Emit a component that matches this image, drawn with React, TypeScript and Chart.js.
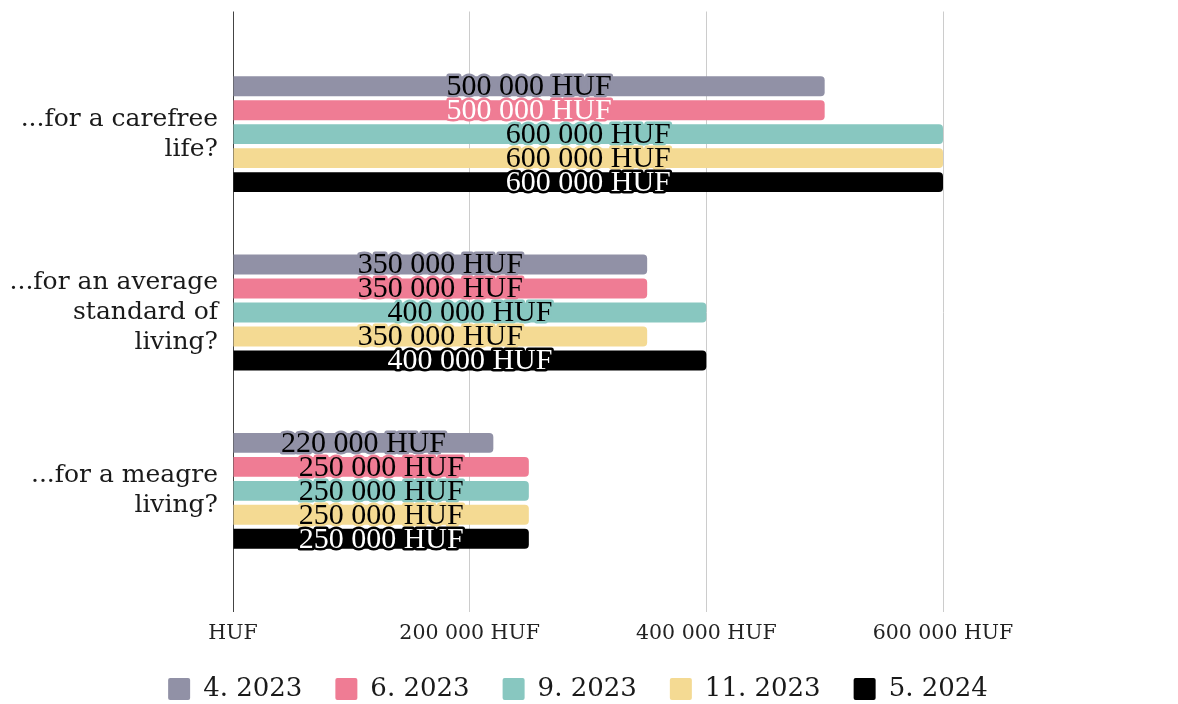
import React, { useEffect, useRef } from "react";
import { Chart, registerables } from "chart.js";

Chart.register(...registerables);

const categories: string[][] = [
  ["...for a carefree", "life?"],
  ["...for an average", "standard of", "living?"],
  ["...for a meagre", "living?"],
];

const seriesNames = ["4. 2023", "6. 2023", "9. 2023", "11. 2023", "5. 2024"];
const apr2023 = [500000, 350000, 220000];
const jun2023 = [500000, 350000, 250000];
const sep2023 = [600000, 400000, 250000];
const nov2023 = [600000, 350000, 250000];
const may2024 = [600000, 400000, 250000];
const seriesValues = [apr2023, jun2023, sep2023, nov2023, may2024];

const seriesColors = ["#9191a6", "#ef7c94", "#88c7c0", "#f4da93", "#000000"];
const labelTextColors = [
  ["#000", "#000", "#000"],
  ["#fff", "#000", "#000"],
  ["#000", "#000", "#000"],
  ["#000", "#000", "#000"],
  ["#fff", "#fff", "#fff"],
];

const xTickLabels = ["HUF", "200 000 HUF", "400 000 HUF", "600 000 HUF"];
const xMax = 600000;
const xStep = 200000;

const fmt = (v: number) =>
  String(v).replace(/\B(?=(\d{3})+(?!\d))/g, " ") + " HUF";

const georgiaLike = '"DejaVu Serif", "Liberation Serif", serif';

const barLabelPlugin = {
  id: "barLabels",
  afterDatasetsDraw(chart: any) {
    const ctx = chart.ctx;
    ctx.save();
    ctx.font = '30px "Liberation Serif", serif';
    ctx.textAlign = "center";
    ctx.textBaseline = "middle";
    ctx.lineJoin = "round";
    chart.data.datasets.forEach((ds: any, i: number) => {
      const meta = chart.getDatasetMeta(i);
      meta.data.forEach((bar: any, j: number) => {
        const { x, y, base } = bar.getProps(["x", "y", "base"], true);
        const cx = (x + base) / 2;
        const text = fmt(ds.data[j]);
        ctx.lineWidth = 5;
        ctx.strokeStyle = seriesColors[i];
        ctx.strokeText(text, cx, y + 1);
        ctx.fillStyle = labelTextColors[i][j];
        ctx.fillText(text, cx, y + 1);
      });
    });
    ctx.restore();
  },
};

const gridColor = (c: any) => (c.tick && c.tick.value === 0 ? "#444444" : "#cccccc");

export default function App() {
  const canvasRef = useRef<HTMLCanvasElement | null>(null);

  useEffect(() => {
    const canvas = canvasRef.current;
    if (!canvas) return;
    const chart = new Chart(canvas, {
      type: "bar",
      data: {
        labels: categories as any,
        datasets: seriesNames.map((name, i) => ({
          label: name,
          data: seriesValues[i],
          backgroundColor: seriesColors[i],
          borderWidth: 0,
          borderRadius: 4,
          categoryPercentage: 0.672,
          barPercentage: 0.83,
          xAxisID: "x",
          yAxisID: "y",
        })),
      },
      options: {
        indexAxis: "y",
        animation: false,
        responsive: false,
        maintainAspectRatio: false,
        layout: { padding: { top: 10, left: 0, right: 0, bottom: 0 } },
        scales: {
          x: {
            type: "linear",
            position: "bottom",
            min: 0,
            max: xMax,
            ticks: {
              stepSize: xStep,
              padding: 9,
              color: "#222",
              font: { family: georgiaLike, size: 20.5 },
              callback: (_v: any, idx: number) => xTickLabels[idx],
            },
            grid: { color: gridColor, tickLength: 32, lineWidth: 1 },
            border: { display: false },
            afterFit: (s: any) => {
              s.height = 63;
            },
          },
          x2: {
            type: "linear",
            position: "top",
            min: 0,
            max: xMax,
            ticks: { stepSize: xStep, display: false },
            grid: { color: gridColor, tickLength: 33.5, drawOnChartArea: false },
            border: { display: false },
          },
          y: {
            type: "category",
            position: "left",
            ticks: {
              padding: 15,
              color: "#1a1a1a",
              font: { family: georgiaLike, size: 25, lineHeight: 1.2 },
            },
            grid: { display: false, drawTicks: false },
            border: { display: true, color: "#444444", width: 1 },
            afterFit: (s: any) => {
              s.width = 233;
            },
          },
          yR: {
            type: "category",
            position: "right",
            ticks: { display: false },
            grid: { display: false, drawTicks: false },
            border: { display: false },
            afterFit: (s: any) => {
              s.width = 213;
            },
          },
        },
        plugins: {
          legend: {
            display: true,
            position: "bottom",
            labels: {
              boxWidth: 22,
              boxHeight: 22,
              padding: 33,
              color: "#1a1a1a",
              useBorderRadius: true,
              borderRadius: 2,
              font: { family: georgiaLike, size: 26 },
            },
          },
          tooltip: { enabled: false },
        },
      },
      plugins: [barLabelPlugin],
    } as any);
    return () => chart.destroy();
  }, []);

  return (
    <div
      style={{
        position: "absolute",
        left: 0,
        top: 0,
        width: 1156,
        height: 704,
        overflow: "hidden",
      }}
    >
      <canvas
        ref={canvasRef}
        width={1156}
        height={712}
        style={{ width: 1156, height: 712, display: "block" }}
      />
    </div>
  );
}
